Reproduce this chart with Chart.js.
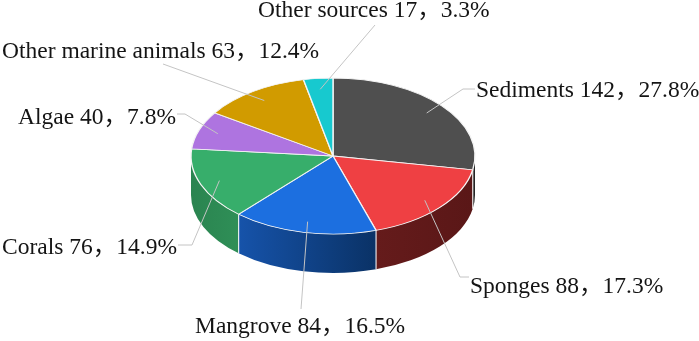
<!DOCTYPE html>
<html>
<head>
<meta charset="utf-8">
<script src="https://cdn.jsdelivr.net/npm/chart.js@4.4.1/dist/chart.umd.min.js"></script>
<style>
html, body { margin: 0; padding: 0; background: #fff; }
canvas { display: block; }
</style>
</head>
<body>
<canvas id="myChart" width="699" height="341"></canvas>
<script>
const categories = ['Sediments', 'Sponges', 'Mangrove', 'Corals', 'Algae', 'Other marine animals', 'Other sources'];
const counts = [142, 88, 84, 76, 40, 63, 17];
const topColors = ['#4f4f4f', '#ef4043', '#1c6fe0', '#37ae6b', '#ae74e0', '#d19b00', '#17c9cf'];
// side walls: [left colour, right colour]
const sideColors = [
    ['#2c2c2c', '#222222'],
    ['#651b1b', '#5a1717'],
    ['#1653aa', '#0a3266'],
    ['#2a8450', '#2f8f57'],
    ['#6e4590', '#6e4590'],
    ['#8a6600', '#8a6600'],
    ['#0e8488', '#0e8488']
];

const tilt = 78 / 142;   // squash of the top face
const depth = 39;        // height of the side wall
const labelFont = '23.5px "Liberation Serif", "Noto Sans CJK SC", serif';
// label text anchor and the bends of its leader line
const labelLayout = [
    { x: 476, y: 97, align: 'left', path: [[463, 89], [475, 89]] },
    { x: 470, y: 293, align: 'left', path: [[460, 277], [469, 277]] },
    { x: 195, y: 333, align: 'left', path: [[301, 309]] },
    { x: 177, y: 254, align: 'right', path: [[192, 245], [178, 245]] },
    { x: 176, y: 124, align: 'right', path: [[185, 114], [177, 114]] },
    { x: 2, y: 58, align: 'left', path: [[163, 64]] },
    { x: 258, y: 17, align: 'left', path: [[375, 25]] }
];

const total = counts.reduce((a, b) => a + b, 0);

const pie3d = {
    id: 'pie3d',
    beforeDatasetsDraw(chart) {
        const ctx = chart.ctx;
        const arcs = chart.getDatasetMeta(0).data;
        const cx = arcs[0].x, cy = arcs[0].y, r = arcs[0].outerRadius, ry = r * tilt;
        ctx.save();
        arcs.forEach((arc, i) => {
            const a0 = Math.max(arc.startAngle, 0);
            const a1 = Math.min(arc.endAngle, Math.PI);
            if (a1 <= a0) return;
            const xl = cx + r * Math.cos(a1), xr = cx + r * Math.cos(a0);
            const grad = ctx.createLinearGradient(xl, 0, xr, 0);
            grad.addColorStop(0, sideColors[i][0]);
            grad.addColorStop(1, sideColors[i][1]);
            ctx.beginPath();
            ctx.ellipse(cx, cy, r, ry, 0, a0, a1);
            ctx.ellipse(cx, cy + depth, r, ry, 0, a1, a0, true);
            ctx.closePath();
            ctx.fillStyle = grad;
            ctx.fill();
        });
        // white seams between the side walls
        ctx.strokeStyle = 'rgba(255,255,255,0.85)';
        ctx.lineWidth = 1.2;
        arcs.forEach(arc => {
            const a = arc.startAngle;
            if (a > 0 && a < Math.PI) {
                const px = cx + r * Math.cos(a), py = cy + ry * Math.sin(a);
                ctx.beginPath();
                ctx.moveTo(px, py);
                ctx.lineTo(px, py + depth);
                ctx.stroke();
            }
        });
        ctx.restore();
        // squash the top face
        ctx.save();
        ctx.translate(0, cy);
        ctx.scale(1, tilt);
        ctx.translate(0, -cy);
    },
    afterDatasetsDraw(chart) {
        const ctx = chart.ctx;
        ctx.restore();
        const arcs = chart.getDatasetMeta(0).data;
        ctx.save();
        ctx.font = labelFont;
        ctx.textBaseline = 'alphabetic';
        arcs.forEach((arc, i) => {
            const mid = (arc.startAngle + arc.endAngle) / 2;
            const sx = arc.x + arc.outerRadius * 0.86 * Math.cos(mid);
            const sy = arc.y + arc.outerRadius * tilt * 0.86 * Math.sin(mid);
            const lay = labelLayout[i];
            ctx.strokeStyle = '#c4c4c4';
            ctx.lineWidth = 1;
            ctx.beginPath();
            ctx.moveTo(sx, sy);
            lay.path.forEach(p => ctx.lineTo(p[0], p[1]));
            ctx.stroke();
            const pct = (counts[i] / total * 100).toFixed(1) + '%';
            ctx.fillStyle = '#141414';
            ctx.textAlign = lay.align;
            ctx.fillText(categories[i] + ' ' + counts[i] + '，' + pct, lay.x, lay.y);
        });
        ctx.restore();
    }
};

const ctx = document.getElementById('myChart').getContext('2d');
const chart = new Chart(ctx, {
    type: 'pie',
    data: {
        labels: categories,
        datasets: [{
            data: counts,
            backgroundColor: topColors,
            borderColor: '#f4f4f4',
            borderWidth: 1.4,
            radius: 142
        }]
    },
    options: {
        responsive: false,
        animation: false,
        events: [],
        layout: { padding: { left: 0, right: 33, top: 0, bottom: 29 } },
        plugins: {
            legend: { display: false },
            tooltip: { enabled: false }
        }
    },
    plugins: [pie3d]
});
</script>
</body>
</html>
